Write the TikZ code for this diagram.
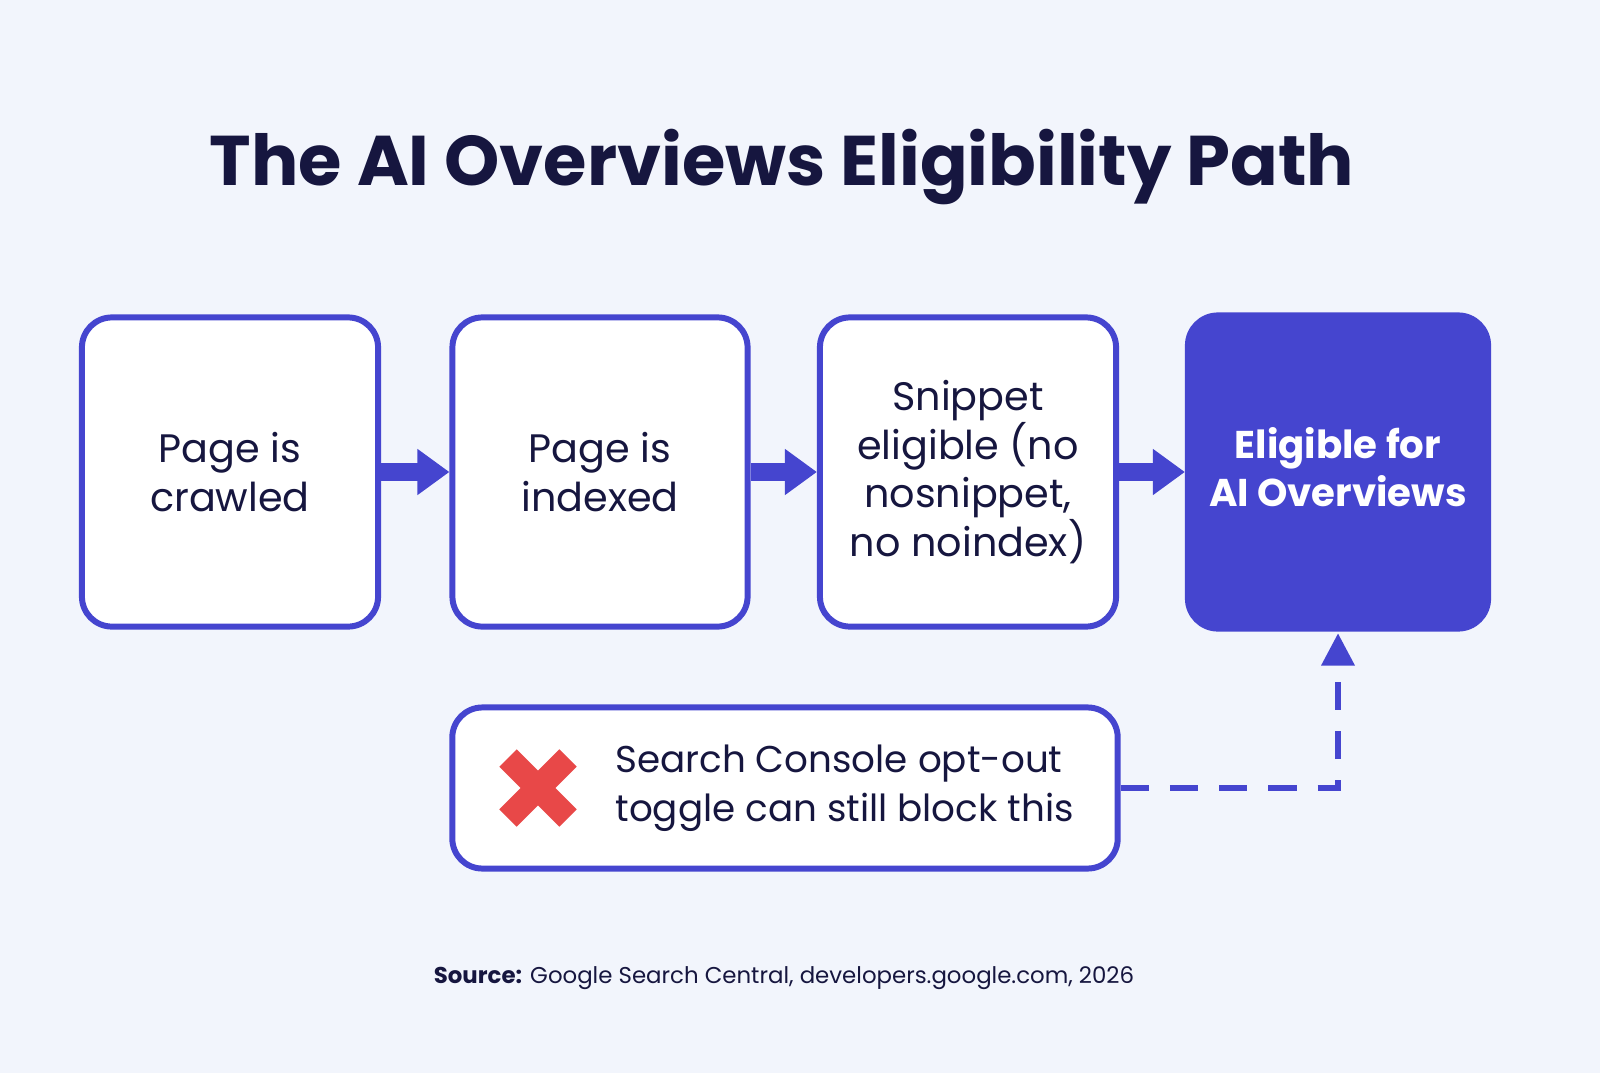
\documentclass[tikz,border=0pt]{standalone}
\usepackage{fontspec}
\setmainfont{Poppins}
\usetikzlibrary{arrows.meta}
\definecolor{bg}{HTML}{F2F5FC}
\definecolor{ink}{HTML}{16163F}
\definecolor{blu}{HTML}{4545CF}
\definecolor{redx}{HTML}{E84848}
\tikzset{
 box/.style={draw=blu,line width=1.7pt,fill=white,rounded corners=0.3cm,align=center,text=ink,font=\fontsize{11.3}{13.8}\selectfont},
 flow/.style={blu,line width=5pt,-{Triangle[length=0.32cm,width=0.44cm]}},
}
\begin{document}
\begin{tikzpicture}[x=0.01cm,y=-0.01cm]
\fill[bg] (0,0) rectangle (1600,1073);
\useasboundingbox (0,0) rectangle (1600,1073);
\node[text=ink,font=\fontsize{20}{24}\selectfont\bfseries] (title) at (782,167) {The AI Overviews Eligibility Path};
\node[box,minimum width=2.96cm,minimum height=3.09cm] (b1) at (230,472) {Page is\\crawled};
\node[box,minimum width=2.95cm,minimum height=3.09cm] (b2) at (600,472) {Page is\\indexed};
\node[box,minimum width=2.96cm,minimum height=3.09cm] (b3) at (968,472) {Snippet\\eligible (no\\nosnippet,\\no noindex)};
\node[box,fill=blu,draw=blu,minimum width=3.0cm,minimum height=3.13cm] (b4) at (1338,472) {};
\node[text=white,align=center,font=\fontsize{11}{13.8}\selectfont\bfseries] (t4) at (1338,467) {Eligible for\\AI Overviews};
\draw[flow] (b1.east) -- (b2.west);
\draw[flow] (b2.east) -- (b3.west);
\draw[flow] (b3.east) -- (b4.west);
\node[box,minimum width=6.65cm,minimum height=1.61cm] (nb) at (785,788) {};
\node[text=ink,align=left,anchor=west,font=\fontsize{10.6}{13.8}\selectfont] (nt) at (603,788) {Search Console opt-out\\toggle can still block this};
\draw[redx,line width=7pt] (508,758) -- (568,818) (568,758) -- (508,818);
\coordinate (c) at (1338,788);
\draw[blu,line width=1.8pt,dash pattern=on 8pt off 6pt] (nb.east) -- (c) -- ([yshift=-0.3cm]b4.south);
\fill[blu] ([yshift=-0.02cm]b4.south) -- ++(-17,32) -- ++(34,0) -- cycle;
\node[text=ink,font=\fontsize{6.5}{8}\selectfont] (src) at (784,978) {\textbf{Source:} Google Search Central, developers.google.com, 2026};
\end{tikzpicture}
\end{document}
